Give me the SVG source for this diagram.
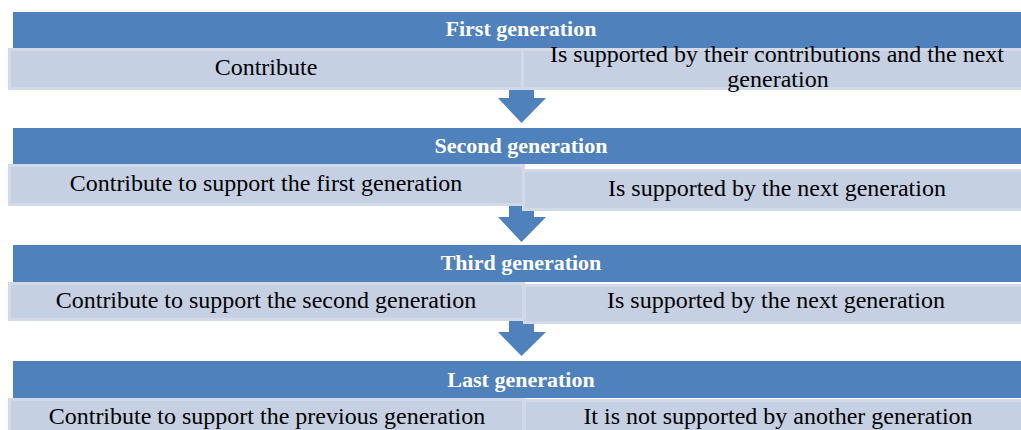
<svg xmlns="http://www.w3.org/2000/svg" width="1021" height="430" viewBox="0 0 1021 430">
<style>
.hdr{fill:#4F81BD}
.box{fill:#C5D0E3;stroke:#D2DAEA;stroke-width:3}
.arrow{fill:#4F81BD}
.ht{font-family:"Liberation Serif","Times New Roman",serif;font-weight:bold;font-size:22px;fill:#FFFFFF;text-anchor:middle}
.bt{font-family:"Liberation Serif","Times New Roman",serif;font-size:24px;fill:#000000;text-anchor:middle}
</style>
<g id="connectors">
<path class="arrow" d="M509,86 H534 V98 H546 L521.5,123 L498,98 H509 Z"/>
<path class="arrow" d="M509,205 H534 V217 H546 L521.5,242 L498,217 H509 Z"/>
<path class="arrow" d="M509,320 H534 V332 H546 L521.5,356 L498,332 H509 Z"/>
</g>
<g id="gen1">
<rect class="hdr" x="13" y="12" width="1010" height="36"/>
<text class="ht" x="521" y="36">First generation</text>
</g>
<g id="gen1-left">
<rect class="box" x="9.5" y="49.5" width="513" height="39"/>
<text class="bt" x="266" y="75">Contribute</text>
</g>
<g id="gen1-right">
<rect class="box" x="522.5" y="49.5" width="500" height="39"/>
<text class="bt" x="777" y="62">Is supported by their contributions and the next</text>
<text class="bt" x="778" y="87">generation</text>
</g>
<g id="gen2">
<rect class="hdr" x="13" y="128" width="1010" height="36"/>
<text class="ht" x="521" y="153">Second generation</text>
</g>
<g id="gen2-left">
<rect class="box" x="9.5" y="165.5" width="514" height="39"/>
<text class="bt" x="266" y="191">Contribute to support the first generation</text>
</g>
<g id="gen2-right">
<rect class="box" x="523.5" y="170.5" width="500" height="39"/>
<text class="bt" x="777" y="196">Is supported by the next generation</text>
</g>
<g id="gen3">
<rect class="hdr" x="13" y="245" width="1010" height="37"/>
<text class="ht" x="521" y="270">Third generation</text>
</g>
<g id="gen3-left">
<rect class="box" x="9.5" y="283.5" width="514" height="36"/>
<text class="bt" x="266" y="308">Contribute to support the second generation</text>
</g>
<g id="gen3-right">
<rect class="box" x="524.5" y="285.5" width="500" height="37"/>
<text class="bt" x="776" y="308">Is supported by the next generation</text>
</g>
<g id="gen4">
<rect class="hdr" x="13" y="361" width="1010" height="37"/>
<text class="ht" x="521" y="387">Last generation</text>
</g>
<g id="gen4-left">
<rect class="box" x="9.5" y="399.5" width="514" height="36"/>
<text class="bt" x="267" y="424">Contribute to support the previous generation</text>
</g>
<g id="gen4-right">
<rect class="box" x="524.5" y="400.5" width="500" height="36"/>
<text class="bt" x="778" y="424">It is not supported by another generation</text>
</g>
</svg>
